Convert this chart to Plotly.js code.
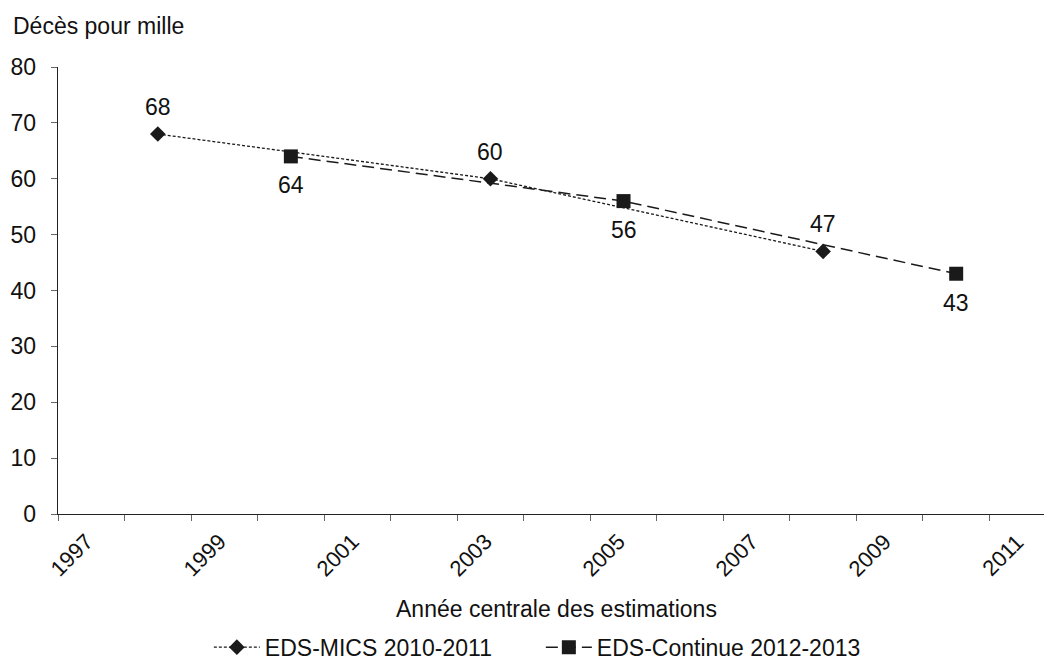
<!DOCTYPE html>
<html>
<head>
<meta charset="utf-8">
<script src="https://cdn.plot.ly/plotly-3.0.1.min.js"></script>
<style>html,body{margin:0;padding:0;background:#fff;}#chart{width:1044px;height:662px;}</style>
</head>
<body>
<div id="chart"></div>
<script>
const seriesNames = ['EDS-MICS 2010-2011', 'EDS-Continue 2012-2013'];
const micsYears = [1998.5, 2003.5, 2008.5];
const micsValues = [68, 60, 47];
const contYears = [2000.5, 2005.5, 2010.5];
const contValues = [64, 56, 43];
const xTickYears = [1997, 1999, 2001, 2003, 2005, 2007, 2009, 2011];
const xTickLabels = ['1997', '1999', '2001', '2003', '2005', '2007', '2009', '2011'];
const yTitle = 'Décès pour mille';
const xTitle = 'Année centrale des estimations';

const FONT = 'Liberation Sans, Arial, sans-serif';
const INK = '#111111';
const FS = 23;
const FS_TICK = 22;

const traces = [
  {
    x: micsYears, y: micsValues, name: seriesNames[0],
    type: 'scatter', mode: 'lines+markers',
    line: {color: '#1a1a1a', width: 1.3, dash: '3px,2px'},
    marker: {symbol: 'diamond', size: 12, color: '#1a1a1a'},
    cliponaxis: false
  },
  {
    x: contYears, y: contValues, name: seriesNames[1],
    type: 'scatter', mode: 'lines+markers',
    line: {color: '#1a1a1a', width: 1.5, dash: '12px,6px'},
    marker: {symbol: 'square', size: 14, color: '#1a1a1a'},
    cliponaxis: false
  }
];

const annotations = [];
micsYears.forEach((yr, i) => annotations.push({
  x: yr, y: micsValues[i], xref: 'x', yref: 'y', text: String(micsValues[i]),
  showarrow: false, xanchor: 'center', yanchor: 'middle', yshift: 27,
  font: {family: FONT, size: FS, color: INK}
}));
contYears.forEach((yr, i) => annotations.push({
  x: yr, y: contValues[i], xref: 'x', yref: 'y', text: String(contValues[i]),
  showarrow: false, xanchor: 'center', yanchor: 'middle', yshift: -29,
  font: {family: FONT, size: FS, color: INK}
}));
xTickYears.forEach((yr, i) => annotations.push({
  x: yr, xref: 'x', y: 0, yref: 'paper',
  text: xTickLabels[i], showarrow: false, textangle: -45,
  xanchor: 'center', yanchor: 'middle', xshift: 13, yshift: -41,
  font: {family: FONT, size: FS_TICK, color: INK}
}));
annotations.push({
  x: 2004.5, xref: 'x', y: 0, yref: 'paper', yshift: -95,
  text: xTitle, showarrow: false, xanchor: 'center', yanchor: 'middle',
  font: {family: FONT, size: FS, color: INK}
});
annotations.push({
  x: 0, xref: 'paper', xshift: -47, y: 1, yref: 'paper', yshift: 41,
  text: yTitle, showarrow: false, xanchor: 'left', yanchor: 'middle',
  font: {family: FONT, size: FS, color: INK}
});

const layout = {
  width: 1044, height: 662,
  margin: {l: 58, r: 0, t: 67, b: 148, autoexpand: false},
  paper_bgcolor: '#ffffff', plot_bgcolor: '#ffffff',
  font: {family: FONT, size: FS, color: INK},
  showlegend: true,
  legend: {
    orientation: 'h', x: 0.153, xanchor: 'left', y: -0.298, yanchor: 'middle',
    font: {family: FONT, size: FS, color: INK},
    itemwidth: 46, entrywidth: 271, traceorder: 'normal',
    bgcolor: 'rgba(0,0,0,0)'
  },
  xaxis: {
    range: [1997, 2011.82], dtick: 1, tick0: 1997,
    showgrid: false, zeroline: false, showticklabels: false,
    ticks: 'outside', ticklen: 6, tickcolor: '#666', tickwidth: 1,
    showline: true, linecolor: '#222', linewidth: 1.3
  },
  yaxis: {
    range: [0, 80], dtick: 10, tick0: 0,
    showgrid: false, zeroline: false,
    ticks: 'outside', ticklen: 6, tickcolor: '#666', tickwidth: 1,
    showline: true, linecolor: '#222', linewidth: 1.3,
    tickfont: {family: FONT, size: FS, color: INK},
    ticklabelstandoff: 10
  },
  annotations: annotations
};

Plotly.newPlot('chart', traces, layout, {displayModeBar: false, staticPlot: true});
</script>
</body>
</html>
